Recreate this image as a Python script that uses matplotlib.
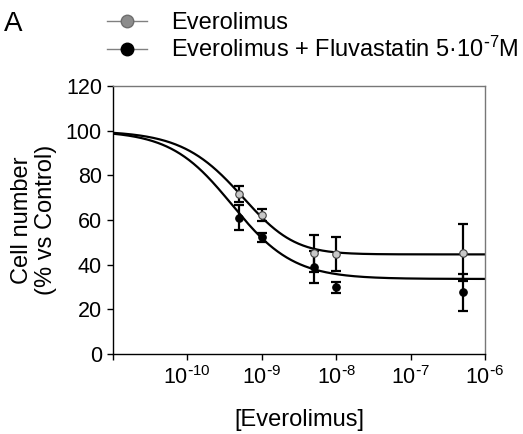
import numpy as np
import matplotlib
matplotlib.use('Agg')
import matplotlib.pyplot as plt
from matplotlib.lines import Line2D

plt.rcParams['font.family'] = ['Liberation Sans', 'DejaVu Sans']
plt.rcParams['mathtext.default'] = 'regular'

# ---- data ----
conc = [5e-10, 1e-9, 5e-9, 1e-8, 5e-7]
evero_mean = [71.5, 62.2, 45.1, 44.8, 45.3]
evero_err = [3.6, 2.6, 8.2, 7.8, 12.7]
fluva_mean = [61.0, 52.2, 39.1, 29.8, 27.6]
fluva_err = [5.5, 2.2, 7.2, 2.5, 8.2]

# fitted dose-response parameters: top, bottom, logEC50, hill slope, asymmetry
evero_fit = (100.0, 44.6, -9.015, 1.0, 1.7)
fluva_fit = (100.0, 33.6, -9.40, 1.05, 1.0)

labels = ['Everolimus', 'Everolimus + Fluvastatin 5·10$^{\\text{-}7}$M']
xticks = [1e-11, 1e-10, 1e-9, 1e-8, 1e-7, 1e-6]
xticklabels = ['', '$10^{\\text{-}10}$', '$10^{\\text{-}9}$', '$10^{\\text{-}8}$',
               '$10^{\\text{-}7}$', '$10^{\\text{-}6}$']
yticks = [0, 20, 40, 60, 80, 100, 120]


def dose_response(x, top, bottom, logec, hill, asym):
    return bottom + (top - bottom) / (1 + 10 ** (hill * (np.log10(x) - logec))) ** asym


fig = plt.figure(figsize=(5.23, 4.34), dpi=100)
ax = fig.add_axes([113 / 523, 1 - 354 / 434, 372 / 523, 268 / 434])

xs = np.logspace(-11, -6, 500)
ax.plot(xs, dose_response(xs, *evero_fit), color='black', lw=1.6, zorder=2)
ax.plot(xs, dose_response(xs, *fluva_fit), color='black', lw=1.6, zorder=2)

ax.errorbar(conc, evero_mean, yerr=evero_err, fmt='none', ecolor='black',
            elinewidth=1.6, capsize=3.5, capthick=1.6, zorder=3)
ax.errorbar(conc, fluva_mean, yerr=fluva_err, fmt='none', ecolor='black',
            elinewidth=1.6, capsize=3.5, capthick=1.6, zorder=3)
ax.plot(conc, evero_mean, 'o', ms=5.4, mfc='#c8c8c8', mec='#404040', mew=0.8, zorder=4)
ax.plot(conc, fluva_mean, 'o', ms=5.4, mfc='black', mec='black', mew=0.8, zorder=4)

ax.set_xscale('log')
ax.set_xlim(1e-11, 1e-6)
ax.set_ylim(0, 120)
ax.set_xticks(xticks)
ax.set_xticklabels(xticklabels)
ax.xaxis.set_minor_locator(matplotlib.ticker.NullLocator())
ax.set_yticks(yticks)

ax.tick_params(axis='both', direction='out', length=4, width=1, labelsize=15.5, pad=4)
ax.tick_params(axis='x', pad=5)
for s in ['left', 'bottom']:
    ax.spines[s].set_color('black')
    ax.spines[s].set_linewidth(1.0)
for s in ['top', 'right']:
    ax.spines[s].set_color('#777777')
    ax.spines[s].set_linewidth(1.0)

ax.set_xlabel('[Everolimus]', fontsize=17)
ax.xaxis.set_label_coords(0.5, -0.205)
ax.set_ylabel('Cell number\n(% vs Control)', fontsize=17, linespacing=1.15)
ax.yaxis.set_label_coords(-0.15, 0.5)

fig.text(4 / 523, 1 - 11 / 434, 'A', fontsize=20, va='top', ha='left')

handles = [
    Line2D([], [], color='#808080', lw=1.0, marker='o', ms=9,
           mfc='#8c8c8c', mec='#6e6e6e'),
    Line2D([], [], color='#808080', lw=1.0, marker='o', ms=9,
           mfc='black', mec='black'),
]
fig.legend(handles, labels, loc='upper left', bbox_to_anchor=(107 / 523, 1 - 12 / 434),
           frameon=False, fontsize=17, handlelength=1.7, handletextpad=1.0,
           labelspacing=0.12, borderpad=0, borderaxespad=0)

fig.savefig('out.png', dpi=100)
